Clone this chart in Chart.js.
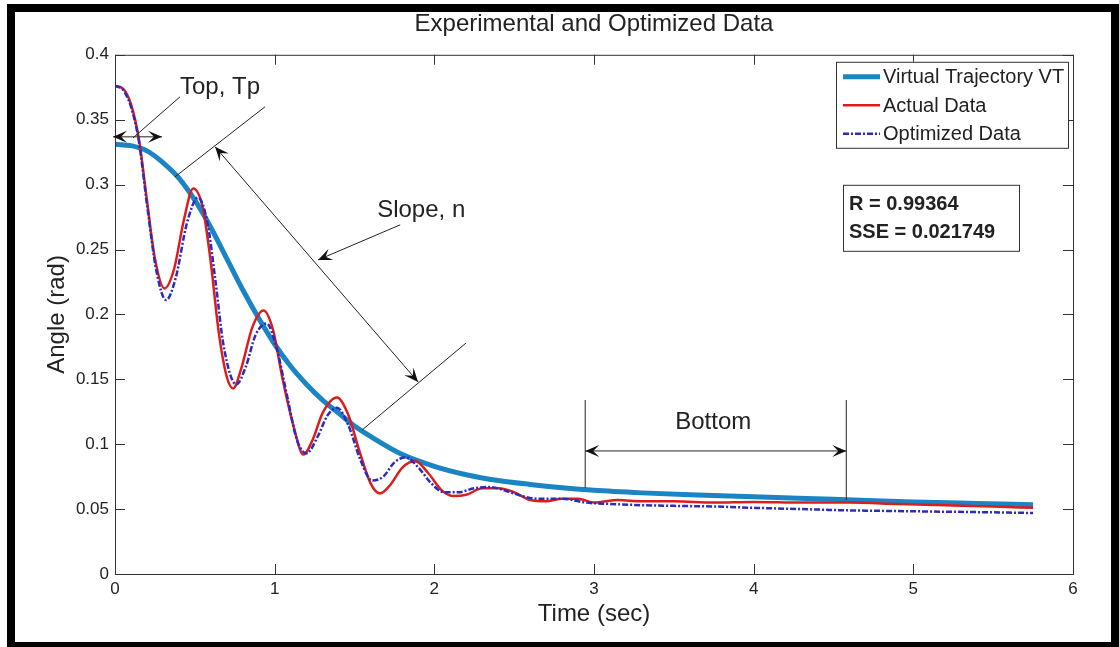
<!DOCTYPE html>
<html>
<head>
<meta charset="utf-8">
<script src="https://cdn.jsdelivr.net/npm/chart.js@4.4.1/dist/chart.umd.min.js"></script>
<style>
  html, body { margin: 0; padding: 0; background: #fff; overflow: hidden; }
  #wrap { position: relative; width: 1119px; height: 647px; overflow: hidden; }
  #frame { position: absolute; left: 7px; top: 4px; right: 0; bottom: -3px; border: 8px solid #000; box-sizing: border-box; pointer-events: none; }
</style>
</head>
<body>
<div id="wrap">
  <canvas id="myChart" width="1119" height="647"></canvas>
  <div id="frame"></div>
</div>
<script>
// tick labels
const xTicks = [0, 1, 2, 3, 4, 5, 6];
const yTicks = [0, 0.05, 0.1, 0.15, 0.2, 0.25, 0.3, 0.35, 0.4];
const yTickLabels = ['0', '0.05', '0.1', '0.15', '0.2', '0.25', '0.3', '0.35', '0.4'];

// virtual trajectory
const vtTime  = [0, 0.1, 0.2, 0.3, 0.4, 0.5, 0.6, 0.7, 0.8, 0.9, 1.0, 1.1, 1.2, 1.3, 1.4, 1.5, 1.6, 1.8, 2.0, 2.2, 2.4, 2.6, 2.8, 3.0, 3.3, 3.6, 4.0, 4.5, 5.0, 5.4, 5.75];
const vtAngle = [0.331, 0.330, 0.326, 0.317, 0.305, 0.288, 0.267, 0.243, 0.219, 0.197, 0.177, 0.160, 0.146, 0.134, 0.124, 0.114, 0.106, 0.092, 0.083, 0.0765, 0.072, 0.069, 0.0665, 0.0645, 0.0625, 0.061, 0.0595, 0.0575, 0.0555, 0.0543, 0.0533];

// actual data
const actualTime  = [0, 0.05, 0.1, 0.15, 0.2, 0.25, 0.31, 0.37, 0.43, 0.49, 0.55, 0.6, 0.65, 0.7, 0.74, 0.79, 0.86, 0.93, 0.99, 1.05, 1.12, 1.18, 1.24, 1.3, 1.39, 1.46, 1.53, 1.6, 1.66, 1.72, 1.8, 1.88, 1.96, 2.05, 2.12, 2.2, 2.3, 2.4, 2.5, 2.6, 2.7, 2.8, 2.9, 3.0, 3.15, 3.3, 3.5, 3.75, 4.0, 4.3, 4.6, 4.9, 5.2, 5.5, 5.75];
const actualAngle = [0.376, 0.374, 0.362, 0.335, 0.288, 0.243, 0.220, 0.235, 0.272, 0.297, 0.282, 0.240, 0.186, 0.152, 0.143, 0.158, 0.190, 0.203, 0.188, 0.150, 0.113, 0.092, 0.104, 0.124, 0.136, 0.123, 0.095, 0.070, 0.062, 0.068, 0.082, 0.087, 0.078, 0.064, 0.060, 0.061, 0.066, 0.066, 0.063, 0.057, 0.056, 0.058, 0.058, 0.055, 0.057, 0.056, 0.056, 0.055, 0.0555, 0.055, 0.055, 0.054, 0.053, 0.052, 0.051];

// optimized data
const optTime  = [0, 0.05, 0.1, 0.15, 0.2, 0.26, 0.32, 0.38, 0.45, 0.52, 0.58, 0.63, 0.68, 0.76, 0.82, 0.88, 0.95, 1.01, 1.08, 1.14, 1.2, 1.27, 1.33, 1.39, 1.46, 1.54, 1.61, 1.68, 1.75, 1.82, 1.9, 1.98, 2.06, 2.15, 2.25, 2.35, 2.45, 2.55, 2.65, 2.8, 2.95, 3.1, 3.3, 3.5, 3.75, 4.0, 4.3, 4.6, 4.9, 5.2, 5.5, 5.75];
const optAngle = [0.376, 0.373, 0.360, 0.333, 0.285, 0.233, 0.211, 0.228, 0.270, 0.290, 0.270, 0.225, 0.176, 0.146, 0.160, 0.184, 0.193, 0.175, 0.136, 0.103, 0.093, 0.106, 0.122, 0.128, 0.115, 0.087, 0.072, 0.075, 0.086, 0.090, 0.082, 0.070, 0.063, 0.063, 0.066, 0.067, 0.064, 0.060, 0.058, 0.058, 0.055, 0.054, 0.053, 0.0525, 0.052, 0.051, 0.050, 0.049, 0.0485, 0.048, 0.0475, 0.047];

const statsLines = ['R = 0.99364', 'SSE = 0.021749'];

// annotation lines, in data units
const notes = {
    lines: [
        [0.113, 0.336, 0.407, 0.3676],   // Top leader
        [0.376, 0.306, 0.940, 0.360],    // slope upper mark
        [1.548, 0.111, 2.199, 0.178],    // slope lower mark
        [2.945, 0.1341, 2.945, 0.0663],  // bottom left mark
        [4.580, 0.1341, 4.580, 0.0570]   // bottom right mark
    ],
    doubleArrows: [
        [-0.0125, 0.3368, 0.294, 0.3368],
        [0.627, 0.3291, 1.898, 0.1480],
        [2.945, 0.0948, 4.580, 0.0948]
    ],
    arrows: [
        [1.786, 0.269, 1.272, 0.242]
    ],
    texts: [
        ['Top, Tp', 0.407, 0.3746, 'left'],
        ['Slope, n', 1.642, 0.2798, 'left'],
        ['Bottom', 3.747, 0.1171, 'center']
    ]
};

const FONT = 'Arial, "Liberation Sans", Helvetica, sans-serif';

function toPoints(xs, ys) {
    return xs.map((x, i) => ({x: x, y: ys[i]}));
}

function head(ctx, x1, y1, x2, y2) {
    const a = Math.atan2(y2 - y1, x2 - x1);
    ctx.save();
    ctx.translate(x2, y2);
    ctx.rotate(a);
    ctx.beginPath();
    ctx.moveTo(0, 0);
    ctx.lineTo(-14, -6);
    ctx.lineTo(-8, 0);
    ctx.lineTo(-14, 6);
    ctx.closePath();
    ctx.fill();
    ctx.restore();
}

const matlabAxes = {
    id: 'matlabAxes',
    afterDatasetsDraw(chart) {
        const {ctx, chartArea: a, scales: {x, y}} = chart;
        ctx.save();
        ctx.strokeStyle = '#333';
        ctx.lineWidth = 1;
        ctx.strokeRect(a.left + 0.5, a.top + 0.5, a.right - a.left, a.bottom - a.top);
        ctx.beginPath();
        xTicks.forEach(v => {
            const px = Math.round(x.getPixelForValue(v)) + 0.5;
            ctx.moveTo(px, a.bottom); ctx.lineTo(px, a.bottom - 10);
            ctx.moveTo(px, a.top); ctx.lineTo(px, a.top + 10);
        });
        yTicks.forEach(v => {
            const py = Math.round(y.getPixelForValue(v)) + 0.5;
            ctx.moveTo(a.left, py); ctx.lineTo(a.left + 10, py);
            ctx.moveTo(a.right, py); ctx.lineTo(a.right - 10, py);
        });
        ctx.stroke();

        // annotations
        ctx.strokeStyle = '#222';
        ctx.fillStyle = '#111';
        const P = (vx, vy) => [x.getPixelForValue(vx), y.getPixelForValue(vy)];
        notes.lines.forEach(l => {
            const [x1, y1] = P(l[0], l[1]), [x2, y2] = P(l[2], l[3]);
            ctx.beginPath(); ctx.moveTo(x1, y1); ctx.lineTo(x2, y2); ctx.stroke();
        });
        notes.doubleArrows.forEach(l => {
            const [x1, y1] = P(l[0], l[1]), [x2, y2] = P(l[2], l[3]);
            ctx.beginPath(); ctx.moveTo(x1, y1); ctx.lineTo(x2, y2); ctx.stroke();
            head(ctx, x2, y2, x1, y1);
            head(ctx, x1, y1, x2, y2);
        });
        notes.arrows.forEach(l => {
            const [x1, y1] = P(l[0], l[1]), [x2, y2] = P(l[2], l[3]);
            ctx.beginPath(); ctx.moveTo(x1, y1); ctx.lineTo(x2, y2); ctx.stroke();
            head(ctx, x1, y1, x2, y2);
        });
        ctx.font = '24px ' + FONT;
        ctx.fillStyle = '#222';
        ctx.textBaseline = 'middle';
        notes.texts.forEach(t => {
            const [tx, ty] = P(t[1], t[2]);
            ctx.textAlign = t[3];
            ctx.fillText(t[0], tx, ty);
        });

        // legend box
        const lx = a.right - 237, ly = a.top + 7, lw = 232, lh = 86;
        ctx.fillStyle = '#fff';
        ctx.fillRect(lx, ly, lw, lh);
        ctx.strokeStyle = '#333';
        ctx.strokeRect(lx + 0.5, ly + 0.5, lw, lh);
        ctx.font = '20px ' + FONT;
        ctx.textAlign = 'left';
        chart.data.datasets.forEach((ds, i) => {
            const ry = ly + 15 + i * 28.5;
            ctx.save();
            ctx.strokeStyle = ds.borderColor;
            ctx.lineWidth = ds.borderWidth;
            ctx.setLineDash(ds.borderDash || []);
            ctx.beginPath(); ctx.moveTo(lx + 7, ry); ctx.lineTo(lx + 44, ry); ctx.stroke();
            ctx.restore();
            ctx.fillStyle = '#222';
            ctx.fillText(ds.label, lx + 47, ry + 1);
        });

        // stats box
        const sx = a.right - 230, sy = a.top + 130, sw = 176, sh = 66;
        ctx.fillStyle = '#fff';
        ctx.fillRect(sx, sy, sw, sh);
        ctx.strokeStyle = '#333';
        ctx.strokeRect(sx + 0.5, sy + 0.5, sw, sh);
        ctx.font = 'bold 20px ' + FONT;
        ctx.fillStyle = '#222';
        statsLines.forEach((s, i) => ctx.fillText(s, sx + 6, sy + 20 + i * 28));
        ctx.restore();
    }
};

document.addEventListener("DOMContentLoaded", () => {
    const ctx = document.getElementById('myChart').getContext('2d');
    new Chart(ctx, {
        type: 'line',
        data: {
            datasets: [{
                label: 'Virtual Trajectory VT',
                data: toPoints(vtTime, vtAngle),
                borderColor: '#1b84c3',
                borderWidth: 5,
                order: 2
            }, {
                label: 'Actual Data',
                data: toPoints(actualTime, actualAngle),
                borderColor: '#dd1c1c',
                borderWidth: 2.5,
                order: 1
            }, {
                label: 'Optimized Data',
                data: toPoints(optTime, optAngle),
                borderColor: '#2b2bbf',
                borderWidth: 2.5,
                borderDash: [6, 2, 2, 2],
                order: 0
            }]
        },
        options: {
            responsive: false,
            animation: false,
            layout: { padding: { left: 0, right: 46, top: 0, bottom: 0 } },
            elements: {
                point: { radius: 0 },
                line: { cubicInterpolationMode: 'monotone', fill: false }
            },
            plugins: {
                legend: { display: false },
                tooltip: { enabled: false },
                title: {
                    display: true,
                    fullSize: false,
                    text: 'Experimental and Optimized Data',
                    color: '#222',
                    font: { family: FONT, size: 24, weight: 'normal' },
                    padding: { top: 10, bottom: 16 }
                }
            },
            scales: {
                x: {
                    type: 'linear',
                    min: 0,
                    max: 6,
                    afterBuildTicks: s => { s.ticks = xTicks.map(v => ({value: v})); },
                    afterFit: s => { s.height = 73; },
                    grid: { display: false, drawTicks: false },
                    border: { display: false },
                    ticks: { color: '#222', padding: 5, font: { family: FONT, size: 17 } },
                    title: {
                        display: true,
                        text: 'Time (sec)',
                        color: '#222',
                        font: { family: FONT, size: 24 },
                        padding: { top: 0, bottom: 18 }
                    }
                },
                y: {
                    min: 0,
                    max: 0.4,
                    afterBuildTicks: s => { s.ticks = yTicks.map(v => ({value: v})); },
                    afterFit: s => { s.width = 115; },
                    grid: { display: false, drawTicks: false },
                    border: { display: false },
                    ticks: {
                        color: '#222',
                        padding: 6,
                        font: { family: FONT, size: 17 },
                        callback: (v, i) => yTickLabels[i]
                    },
                    title: {
                        display: true,
                        text: 'Angle (rad)',
                        color: '#222',
                        font: { family: FONT, size: 24 },
                        padding: { top: 43, bottom: 0 }
                    }
                }
            }
        },
        plugins: [matlabAxes]
    });
});
</script>
</body>
</html>
